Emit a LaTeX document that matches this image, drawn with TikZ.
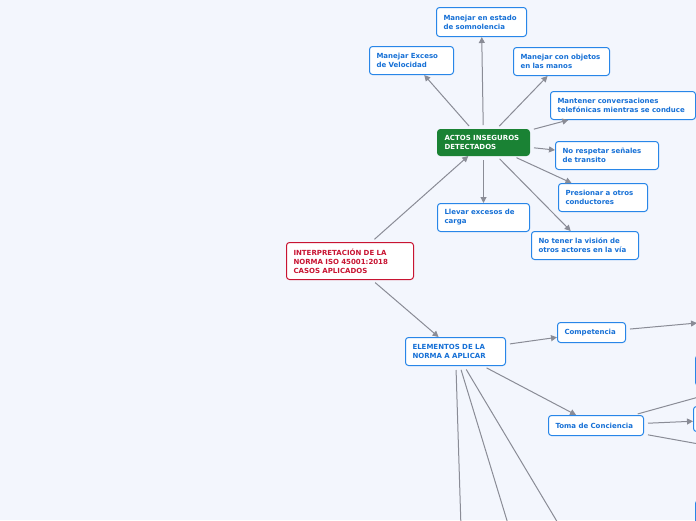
\documentclass[tikz,border=0pt]{standalone}
\usepackage{fontspec}
\newfontfamily\mapfont{DejaVu Sans}
\usetikzlibrary{arrows.meta}
\definecolor{bgcol}{RGB}{243,246,253}
\definecolor{boxblue}{RGB}{40,134,232}
\definecolor{txtblue}{RGB}{22,112,214}
\definecolor{actgreen}{RGB}{26,130,52}
\definecolor{rootred}{RGB}{200,20,50}
\definecolor{linegray}{RGB}{138,140,150}
\tikzset{
  topic/.style={draw=boxblue, line width=1pt, fill=white, rounded corners=3pt,
    text=txtblue, font={\mapfont\fontsize{7}{9}\selectfont\bfseries},
    align=left, anchor=north west, inner xsep=7pt, inner ysep=0pt},
  link/.style={draw=linegray, line width=1pt, -{Triangle[length=6pt,width=6pt]},
    shorten <=4pt},
}

\begin{document}
\begin{tikzpicture}[x=1pt, y=-1pt]
  \useasboundingbox (0,0) rectangle (696,520);
  \fill[bgcol] (0,0) rectangle (696,520);
  \node[topic, draw=rootred, text=rootred, minimum width=127pt, text width=113pt, minimum height=37pt] (norma) at (286,242)
    {INTERPRETACIÓN DE LA\\NORMA ISO 45001:2018\\CASOS APLICADOS};
  \node[topic, fill=actgreen, draw=actgreen, text=white, minimum width=92pt, text width=78pt, minimum height=26pt] (actos) at (437,129)
    {ACTOS INSEGUROS\\DETECTADOS};
  \node[topic, minimum width=90pt, text width=76pt, minimum height=29pt] (somno) at (436,7) {Manejar en estado\\de somnolencia};
  \node[topic, minimum width=84pt, text width=70pt, minimum height=28pt] (exceso) at (369,46) {Manejar Exceso\\de Velocidad};
  \node[topic, minimum width=96pt, text width=82pt, minimum height=28pt] (objetos) at (513,47) {Manejar con objetos\\en las manos};
  \node[topic, minimum width=145pt, text width=131pt, minimum height=28pt] (telef) at (550,91) {Mantener conversaciones\\telefónicas mientras se conduce};
  \node[topic, minimum width=103pt, text width=89pt, minimum height=28pt] (senales) at (555,141) {No respetar señales\\de transito};
  \node[topic, minimum width=89pt, text width=75pt, minimum height=28pt] (presion) at (558,183) {Presionar a otros\\conductores};
  \node[topic, minimum width=92pt, text width=78pt, minimum height=28pt] (carga) at (437,203) {Llevar excesos de\\carga};
  \node[topic, minimum width=107pt, text width=93pt, minimum height=28pt] (vision) at (531,231) {No tener la visión de\\otros actores en la vía};
  \node[topic, minimum width=100pt, text width=86pt, minimum height=28pt] (elementos) at (405,337) {ELEMENTOS DE LA\\NORMA A APLICAR};
  \node[topic, minimum width=68pt, text width=54pt, minimum height=20pt] (compet) at (557,322) {Competencia};
  \node[topic, minimum width=95pt, text width=81pt, minimum height=20pt] (toma) at (548,415) {Toma de Conciencia};
  % nodes cut by the right and bottom edges
  \node[topic, minimum width=100pt, minimum height=30pt] (derA) at (695,355) {};
  \node[topic, minimum width=100pt, minimum height=25pt] (derB) at (693,406) {};
  \node[topic, minimum width=100pt, minimum height=30pt] (derC) at (695,500) {};
  \coordinate (compfin) at (697,323);
  \coordinate (tomaup) at (760,380);
  \coordinate (tomadown) at (760,455);
  \coordinate (bajoA) at (462,560);
  \coordinate (bajoB) at (519,560);
  \coordinate (bajoC) at (580,560);

  \draw[link] (norma) -- (actos);
  \draw[link] (norma) -- (elementos);
  \foreach \dest in {somno,exceso,objetos,telef,senales,presion,carga,vision}
    \draw[link] (actos) -- (\dest);
  \draw[link] (elementos) -- (compet);
  \draw[link] (elementos) -- (toma);
  \foreach \dest in {bajoA,bajoB,bajoC}
    \draw[link] (elementos) -- (\dest);
  \draw[link] (compet) -- (compfin);
  \draw[link] (toma) -- (tomaup);
  \draw[link] (toma) -- (derB);
  \draw[link] (toma) -- (tomadown);
\end{tikzpicture}
\end{document}
